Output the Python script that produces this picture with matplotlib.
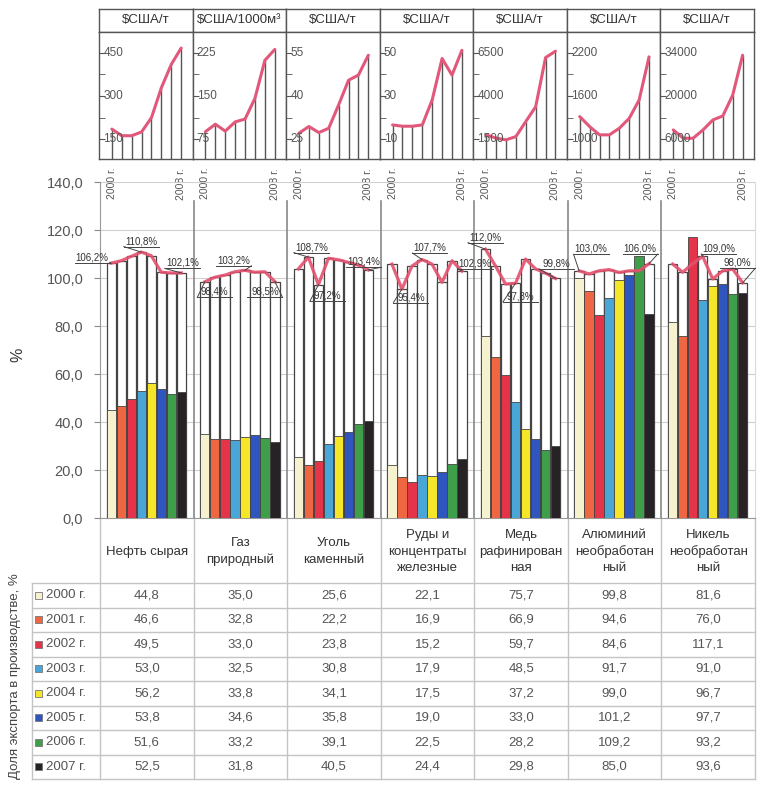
import numpy as np
import matplotlib
matplotlib.use("Agg")
import matplotlib.pyplot as plt
from matplotlib.patches import Rectangle

plt.rcParams['font.family'] = ['Liberation Sans', 'DejaVu Sans']

# ---------------------------------------------------------------
# data
# ---------------------------------------------------------------
years = ['2000 г.', '2001 г.', '2002 г.', '2003 г.', '2004 г.', '2005 г.', '2006 г.', '2007 г.']
year_colors = ['#f6f1cf', '#ef6642', '#e5334a', '#4aa6d6', '#f5e62a', '#2f56bf', '#3f9e49', '#262226']

categories = ['Нефть сырая', 'Газ\nприродный', 'Уголь\nкаменный', 'Руды и\nконцентраты\nжелезные',
              'Медь\nрафинирован\nная', 'Алюминий\nнеобработан\nный', 'Никель\nнеобработан\nный']
units = ['$США/т', '$США/1000м³', '$США/т', '$США/т', '$США/т', '$США/т', '$США/т']

# export share in production, %  (table values)
share_oil = [44.8, 46.6, 49.5, 53.0, 56.2, 53.8, 51.6, 52.5]
share_gas = [35.0, 32.8, 33.0, 32.5, 33.8, 34.6, 33.2, 31.8]
share_coal = [25.6, 22.2, 23.8, 30.8, 34.1, 35.8, 39.1, 40.5]
share_ore = [22.1, 16.9, 15.2, 17.9, 17.5, 19.0, 22.5, 24.4]
share_copper = [75.7, 66.9, 59.7, 48.5, 37.2, 33.0, 28.2, 29.8]
share_al = [99.8, 94.6, 84.6, 91.7, 99.0, 101.2, 109.2, 85.0]
share_ni = [81.6, 76.0, 117.1, 91.0, 96.7, 97.7, 93.2, 93.6]

# white bars with red line, %
total_oil = [106.2, 107.2, 109.0, 110.8, 109.3, 102.4, 102.1, 102.1]
total_gas = [98.4, 100.3, 101.2, 102.6, 103.2, 102.4, 102.6, 98.5]
total_coal = [103.8, 108.7, 97.2, 108.2, 107.6, 106.5, 105.4, 103.4]
total_ore = [105.8, 95.4, 105.0, 107.7, 105.8, 98.2, 107.2, 102.9]
total_copper = [112.0, 105.0, 97.5, 97.8, 107.9, 103.8, 102.0, 99.8]
total_al = [103.0, 101.7, 103.0, 103.5, 102.3, 103.0, 103.0, 106.0]
total_ni = [105.8, 102.4, 106.0, 109.0, 99.6, 103.0, 103.7, 98.0]

# export prices (small panels)
price_oil = [185, 162, 162, 175, 225, 329, 410, 467]
price_gas = [88, 101, 89, 105, 110, 146, 212, 231]
price_coal = [27.1, 29.4, 27.3, 28.8, 36.9, 45.5, 47.3, 54.2]
price_ore = [16.6, 16.0, 16.0, 16.6, 28.2, 47.4, 39.7, 51.2]
price_copper = [1750, 1560, 1460, 1650, 2520, 3380, 6230, 6600]
price_al = [1314, 1175, 1060, 1060, 1152, 1290, 1545, 2145]
price_ni = [9000, 6300, 6300, 9000, 12250, 13540, 20320, 33240]

price_ticks = [[150, 300, 450], [75, 150, 225], [25, 40, 55], [10, 30, 50],
               [1500, 4000, 6500], [1000, 1600, 2200], [6000, 20000, 34000]]

shares = [share_oil, share_gas, share_coal, share_ore, share_copper, share_al, share_ni]
totals = [total_oil, total_gas, total_coal, total_ore, total_copper, total_al, total_ni]
prices = [price_oil, price_gas, price_coal, price_ore, price_copper, price_al, price_ni]

# labelled points: (category, year index, dx px, dy px)
label_spots = [(0, 0, -19, 6), (0, 3, 0, 11), (0, 7, 1, 10),
               (1, 0, 10, -10), (1, 4, -11, 10), (1, 7, -10, -10),
               (2, 1, 3, 10), (2, 2, 9, -11), (2, 7, -5, 8),
               (3, 1, 9, -8), (3, 3, 8, 12), (3, 7, 13, 8),
               (4, 0, 0, 12), (4, 3, 5, -13), (4, 7, 1, 15),
               (5, 0, 12, 22), (5, 7, -9, 15),
               (6, 3, 16, 8), (6, 7, -5, 20)]


def fmt(v):
  return f"{v:.1f}".replace('.', ',')


# ---------------------------------------------------------------
# figure / layout in pixels
# ---------------------------------------------------------------
W, H = 769, 793
fig = plt.figure(figsize=(W/100, H/100), dpi=100)
fig.patch.set_facecolor('white')

def px_axes(l, t, r, b, **kw):
  return fig.add_axes([l/W, 1-b/H, (r-l)/W, (b-t)/H], **kw)

X0, X1 = 100, 755          # main chart left/right
Y0, Y140 = 518, 182        # pixel of 0 and 140
gw = (X1-X0)/7             # group width in px
ypx = (Y0-Y140)/140        # px per %
grid_c = '#d0d0d0'

# overlay for table and loose texts
ov = px_axes(0, 0, W, H)
ov.set_xlim(0, W); ov.set_ylim(H, 0); ov.axis('off')
ov.patch.set_alpha(0)

# ---- small price panels ----
P0, PW = 99, (754-99)/7
for i in range(7):
  l = P0 + i*PW
  hd = px_axes(l, 9, l+PW, 32)
  hd.set_xticks([]); hd.set_yticks([])
  for s in hd.spines.values():
    s.set_color('#555'); s.set_linewidth(1.0)
  hd.text(0.5, 0.5, units[i], ha='center', va='center', fontsize=9.5, color='#333',
          transform=hd.transAxes)

  a = px_axes(l, 32, l+PW, 159)
  t = price_ticks[i]
  d = t[1]-t[0]
  lo, hi = t[0]-0.46*d, t[-1]+0.485*d
  x = np.arange(len(prices[i]))
  a.vlines(x, lo, prices[i], color='#555', lw=1.0)
  a.plot(x, prices[i], color='#e2587a', lw=2.2, solid_capstyle='round')
  a.set_xlim(-1.3, 8.15); a.set_ylim(lo, hi)
  a.set_xticks([])
  a.set_yticks(t)
  a.set_yticks([t[0]+d/2, t[1]+d/2], minor=True)
  a.tick_params(axis='y', which='both', direction='in', length=4, color='#555',
                labelleft=False)
  for v in t:
    a.text(0.045, v, str(v), transform=a.get_yaxis_transform(), ha='left', va='center',
           fontsize=8.5, color='#555')
  for s in a.spines.values():
    s.set_color('#555'); s.set_linewidth(1.0)
  for xx, lab in [(0, '2000 г.'), (7, '2008 г.')]:
    a.text(xx, -0.07, lab, transform=a.get_xaxis_transform(), rotation=90,
           ha='center', va='top', fontsize=7.5, color='#555')

# ---- main chart ----
ax = px_axes(X0, Y140, X1, Y0)
ax.patch.set_alpha(0)
ax.set_xlim(0, 7); ax.set_ylim(0, 140)
ax.set_yticks(np.arange(0, 141, 20))
ax.yaxis.set_major_formatter(plt.FuncFormatter(lambda v, p: fmt(v)))
ax.tick_params(axis='y', length=4, color='#888', labelsize=10.5, labelcolor='#555', pad=8)
ax.set_xticks([])
ax.grid(axis='y', color=grid_c, lw=0.8)
ax.set_axisbelow(True)
ax.spines['top'].set_visible(False)
ax.spines['right'].set_color('#e8d4d4')
ax.spines['left'].set_color('#999')
ax.spines['bottom'].set_color('#999')

xin = 0.12 + 0.107*np.arange(8)
bw = 0.1
for i in range(7):
  xs = i + xin
  ax.bar(xs, totals[i], width=bw, color='white', edgecolor='#444', lw=0.9, zorder=2)
  ax.bar(xs, shares[i], width=bw, color=year_colors, edgecolor='#444', lw=0.6, zorder=3)
  ax.plot(xs, totals[i], color='#e4506e', lw=2.3, alpha=0.9, zorder=4)

for b in range(1, 7):
  ax.plot([b, b], [0, 132], color='#888', lw=1.2, zorder=1)

hw = 17.5/gw
for cat, j, dx, dy in label_spots:
  v = totals[cat][j]
  bx = cat + xin[j]
  tx = bx + dx/gw
  ty = v + dy/ypx
  ax.text(tx, ty, f"{fmt(v)}%", ha='center', va='center', fontsize=7, color='#333',
          zorder=6, clip_on=False)
  uy = ty - 5.5/ypx
  ax.plot([tx-hw, tx+hw], [uy, uy], color='#444', lw=0.7, zorder=6, clip_on=False)
  ex = tx + hw if dx < 0 else tx - hw
  ax.plot([ex, bx], [uy, v], color='#444', lw=0.7, zorder=6, clip_on=False)

ov.text(18, 355, '%', rotation=90, ha='center', va='center', fontsize=11.5, color='#333')
ov.text(15, 676, 'Доля экспорта в производстве, %', rotation=90, ha='center', va='center',
        fontsize=9.5, color='#444')

# ---- table ----
T0, RH = 583, 24.5
bounds = [X0 + gw*k for k in range(8)]
lc = '#c4c4c4'
for bxp in bounds:
  ov.plot([bxp, bxp], [Y0, T0+8*RH], color=lc, lw=1.0)
ov.plot([32, 32], [T0, T0+8*RH], color=lc, lw=1.0)
for r in range(9):
  ov.plot([32, X1], [T0+r*RH, T0+r*RH], color=lc, lw=1.0)

for i in range(7):
  ov.text(X0 + gw*(i+0.5), (Y0+T0)/2 + 1, categories[i], ha='center', va='center',
          fontsize=9.5, color='#333', linespacing=1.45)
  for r in range(8):
    ov.text(X0 + gw*(i+0.5), T0 + (r+0.5)*RH, fmt(shares[i][r]), ha='center', va='center',
            fontsize=9.5, color='#555')

for r in range(8):
  cy = T0 + (r+0.5)*RH
  ov.add_patch(Rectangle((35, cy-3.5), 7, 7, facecolor=year_colors[r], edgecolor='#777', lw=0.6))
  ov.text(46, cy, years[r], ha='left', va='center', fontsize=9.5, color='#555')

fig.savefig('out.png', dpi=100)
